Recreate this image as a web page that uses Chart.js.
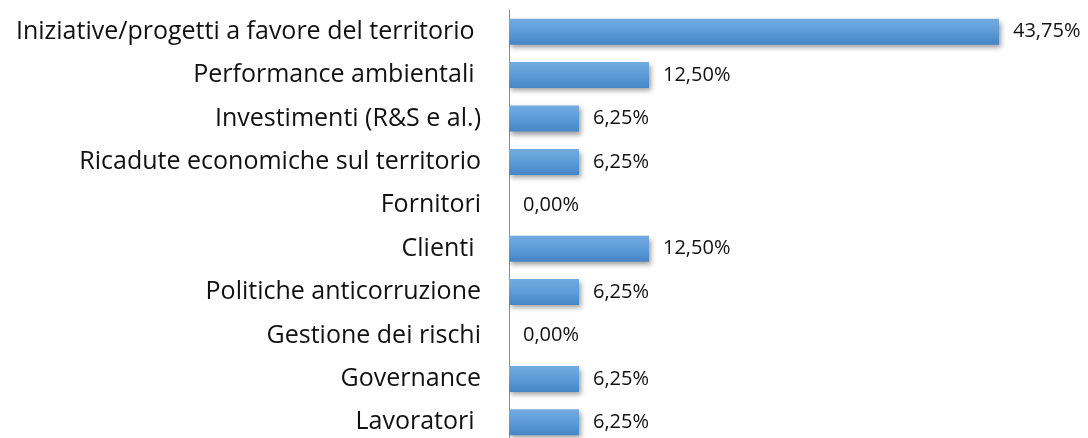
<!DOCTYPE html>
<html><head><meta charset="utf-8">
<script src="https://cdn.jsdelivr.net/npm/chart.js@4/dist/chart.umd.min.js"></script>
<style>html,body{margin:0;padding:0;background:#fff;overflow:hidden}canvas{display:block}</style>
</head><body><canvas id="c" width="1088" height="444"></canvas>
<script>
const categories = ["Iniziative/progetti a favore del territorio ", "Performance ambientali ", "Investimenti (R&S e al.)", "Ricadute economiche sul territorio", "Fornitori", "Clienti ", "Politiche anticorruzione", "Gestione dei rischi", "Governance", "Lavoratori "];
const values = [43.75, 12.5, 6.25, 6.25, 0, 12.5, 6.25, 0, 6.25, 6.25];
const valueLabels = ["43,75%", "12,50%", "6,25%", "6,25%", "0,00%", "12,50%", "6,25%", "0,00%", "6,25%", "6,25%"];
const xRange = [0, 50];

const FONT = "'Open Sans', 'Noto Sans', sans-serif";

const shadowAndLabels = {
  id: 'shadowAndLabels',
  beforeDatasetsDraw(chart) {
    const c = chart.ctx;
    c.save();
    c.shadowColor = 'rgba(0,0,0,0.38)';
    c.shadowBlur = 5;
    c.shadowOffsetX = 2;
    c.shadowOffsetY = 3;
  },
  afterDatasetsDraw(chart) {
    const c = chart.ctx;
    c.restore();
    const meta = chart.getDatasetMeta(0);
    c.save();
    c.font = "20px " + FONT;
    c.fillStyle = '#111';
    c.textAlign = 'left';
    c.textBaseline = 'middle';
    meta.data.forEach((el, i) => {
      c.fillText(valueLabels[i], el.x + 14, el.y);
    });
    c.restore();
  }
};

new Chart(document.getElementById('c'), {
  type: 'bar',
  data: {
    labels: categories,
    datasets: [{
      data: values,
      barPercentage: 0.6,
      categoryPercentage: 1,
      borderWidth: 0,
      backgroundColor: (ctx) => {
        const chart = ctx.chart;
        const ys = chart.scales && chart.scales.y;
        if (!ys || ctx.dataIndex === undefined) return '#5b9bd5';
        const c = ys.getPixelForValue(ctx.dataIndex);
        const half = (ys.bottom - ys.top) / categories.length * 0.3;
        if (!isFinite(c) || !isFinite(half) || half <= 0) return '#5b9bd5';
        const g = chart.ctx.createLinearGradient(0, c - half, 0, c + half);
        g.addColorStop(0, '#74abdf');
        g.addColorStop(0.5, '#5d9cd9');
        g.addColorStop(1, '#4685c6');
        return g;
      }
    }]
  },
  options: {
    indexAxis: 'y',
    responsive: false,
    devicePixelRatio: 1,
    animation: false,
    layout: { padding: { left: 0, right: 19, top: 10, bottom: 0 } },
    plugins: { legend: { display: false }, tooltip: { enabled: false } },
    scales: {
      x: { display: false, min: xRange[0], max: xRange[1] },
      y: {
        grid: { display: false, drawTicks: false },
        border: { display: true, color: '#8e8e8e', width: 1 },
        ticks: { font: { size: 25, family: FONT }, color: '#111', padding: 28 },
        afterFit(scale) { scale.width = 509; scale.paddingTop = 0; scale.paddingBottom = 0; }
      }
    }
  },
  plugins: [shadowAndLabels]
});
</script>
</body></html>
